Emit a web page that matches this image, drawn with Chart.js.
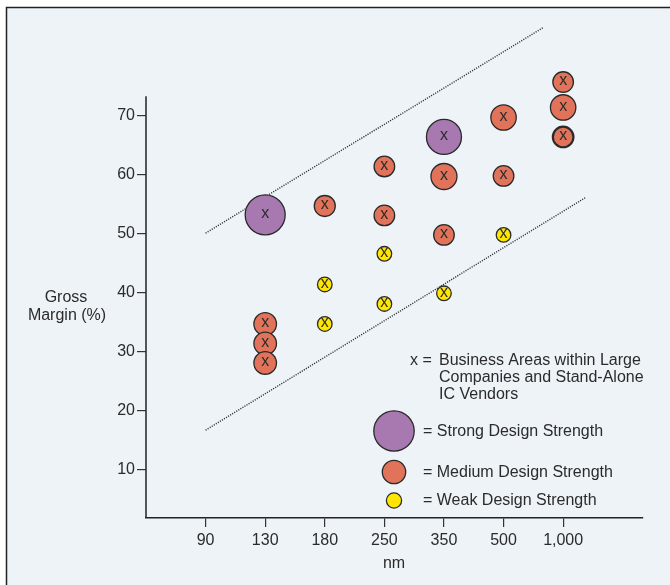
<!DOCTYPE html>
<html>
<head>
<meta charset="utf-8">
<script src="https://cdn.jsdelivr.net/npm/chart.js@4.4.1/dist/chart.umd.min.js"></script>
<style>
  html, body { margin: 0; padding: 0; background: #ffffff; }
  #wrap { width: 670px; height: 585px; }
</style>
</head>
<body>
<div id="wrap"><canvas id="chart_margem" width="670" height="585"></canvas></div>
<script>
// categorias do eixo x (nm) e ticks do eixo y
const xLabels = ['90', '130', '180', '250', '350', '500', '1,000'];
const yTicks = [10, 20, 30, 40, 50, 60, 70];
const yAxisTop = 73.2; // onde a linha do eixo y termina

// forte (roxo)
const strongNm = ['130', '350'];
const strongMargin = [53.1, 66.3];
const strongSize = [20, 17.5];

// medio (laranja)
const mediumNm = ['130', '130', '130', '180', '250', '250', '350', '350', '500', '500', '1,000', '1,000', '1,000'];
const mediumMargin = [34.6, 31.3, 28.0, 54.6, 61.3, 53.0, 59.6, 49.7, 69.6, 59.7, 75.6, 71.3, 66.3];
const mediumSize = [11.3, 11.3, 11.3, 10.5, 10.3, 10.3, 13, 10.3, 12.7, 10.3, 10.3, 12.7, 10.3];

// fraco (amarelo)
const weakNm = ['180', '180', '250', '250', '350', '500'];
const weakMargin = [41.3, 34.6, 46.5, 38.0, 39.8, 49.7];
const weakSize = [7.3, 7.3, 7.3, 7.3, 7.3, 7.3];

// linhas pontilhadas (posicao no eixo x, margem)
const upperLineX = [0, 5.66];
const upperLineY = [50.0, 84.8];
const lowerLineX = [0, 6.37];
const lowerLineY = [16.6, 56.0];

const textColor = '#2b2b2b';
const fontFamily = '"Liberation Sans", Arial, sans-serif';
Chart.defaults.font.family = fontFamily;
Chart.defaults.color = textColor;

function montarPontos(nms, margens, tamanhos) {
    let pontos = [];
    for (let i = 0; i < nms.length; i++) {
        pontos.push({ x: xLabels.indexOf(nms[i]), y: margens[i], r: tamanhos[i] });
    }
    return pontos;
}

function montarLinha(xs, ys) {
    return xs.map(function (x, i) { return { x: x, y: ys[i] }; });
}

const fundo = {
    id: 'fundo',
    beforeDraw(chart) {
        const ctx = chart.ctx;
        ctx.save();
        ctx.fillStyle = '#ffffff';
        ctx.fillRect(0, 0, chart.width, chart.height);
        ctx.fillStyle = '#eef3f8';
        ctx.fillRect(6, 7, chart.width - 6, chart.height - 7);
        ctx.strokeStyle = '#222222';
        ctx.lineWidth = 1.5;
        ctx.beginPath();
        ctx.moveTo(6.5, chart.height);
        ctx.lineTo(6.5, 7.5);
        ctx.lineTo(chart.width, 7.5);
        ctx.stroke();

        // linha do eixo y, so ate 73
        const y = chart.scales.y;
        const left = chart.chartArea.left;
        ctx.beginPath();
        ctx.moveTo(left, y.getPixelForValue(yAxisTop));
        ctx.lineTo(left, chart.chartArea.bottom);
        ctx.stroke();
        ctx.restore();
    }
};

const marcas = {
    id: 'marcas',
    afterDatasetsDraw(chart) {
        const ctx = chart.ctx;
        ctx.save();
        ctx.fillStyle = textColor;
        ctx.font = '16px ' + fontFamily;
        ctx.textAlign = 'center';
        ctx.textBaseline = 'middle';
        chart.data.datasets.forEach(function (ds, i) {
            if (ds.type !== 'bubble') return;
            chart.getDatasetMeta(i).data.forEach(function (el) {
                ctx.fillText('x', el.x, el.y - 1);
            });
        });

        // titulos dos eixos
        ctx.fillText('Gross', 66, 298);
        ctx.fillText('Margin (%)', 67, 316);
        ctx.fillText('nm', 394, 564);

        // legenda
        ctx.textAlign = 'left';
        ctx.textBaseline = 'alphabetic';
        ctx.fillText('x =', 410, 365);
        ctx.fillText('Business Areas within Large', 439, 365);
        ctx.fillText('Companies and Stand-Alone', 439, 382);
        ctx.fillText('IC Vendors', 439, 399);
        ctx.fillText('= Strong Design Strength', 423, 436);
        ctx.fillText('= Medium Design Strength', 423, 477);
        ctx.fillText('= Weak Design Strength', 423, 505);

        const itens = [
            [394, 431, 20.2, '#a878b0'],
            [394, 472, 11.7, '#e0735a'],
            [394, 500.5, 7.6, '#ffe600']
        ];
        itens.forEach(function (it) {
            ctx.beginPath();
            ctx.arc(it[0], it[1], it[2], 0, Math.PI * 2);
            ctx.fillStyle = it[3];
            ctx.fill();
            ctx.lineWidth = 1.3;
            ctx.strokeStyle = '#2a2a2a';
            ctx.stroke();
        });
        ctx.restore();
    }
};

const bolha = { borderColor: '#2a2a2a', borderWidth: 1.3, clip: false, order: 1 };
const pontilhado = {
    type: 'line', borderColor: '#2a2a2a', borderWidth: 1.4, borderDash: [1.1, 1.3],
    pointRadius: 0, fill: false, clip: false, order: 2
};

const config_margem = {
    data: {
        datasets: [
            Object.assign({ type: 'bubble', label: 'Strong', data: montarPontos(strongNm, strongMargin, strongSize), backgroundColor: '#a878b0' }, bolha),
            Object.assign({ type: 'bubble', label: 'Medium', data: montarPontos(mediumNm, mediumMargin, mediumSize), backgroundColor: '#e0735a' },
                bolha, { borderWidth: function (c) { return c.dataIndex === 12 ? 2.2 : 1.3; } }),
            Object.assign({ type: 'bubble', label: 'Weak', data: montarPontos(weakNm, weakMargin, weakSize), backgroundColor: '#ffe600' }, bolha),
            Object.assign({ label: 'upper', data: montarLinha(upperLineX, upperLineY) }, pontilhado),
            Object.assign({ label: 'lower', data: montarLinha(lowerLineX, lowerLineY) }, pontilhado)
        ]
    },
    options: {
        responsive: false,
        animation: false,
        events: [],
        layout: { padding: { left: 0, right: 27, top: 20, bottom: 0 } },
        plugins: { legend: { display: false }, tooltip: { enabled: false } },
        scales: {
            x: {
                type: 'linear',
                min: -1,
                max: 7.34,
                afterFit: function (s) { s.height = 67; },
                afterBuildTicks: function (s) { s.ticks = xLabels.map(function (l, i) { return { value: i }; }); },
                grid: { drawOnChartArea: false, drawTicks: true, tickLength: 9, color: '#333333', lineWidth: 1.2 },
                border: { color: '#222222', width: 1.5 },
                ticks: {
                    color: textColor, padding: 4, maxRotation: 0, autoSkip: false,
                    font: { size: 16 },
                    callback: function (v) { return xLabels[v]; }
                }
            },
            y: {
                type: 'linear',
                min: 1.72,
                max: 85.9,
                afterFit: function (s) { s.width = 146; },
                afterBuildTicks: function (s) { s.ticks = yTicks.map(function (v) { return { value: v }; }); },
                grid: { drawOnChartArea: false, drawTicks: true, tickLength: 9, color: '#333333', lineWidth: 1.2 },
                border: { display: false },
                ticks: { color: textColor, padding: 2, autoSkip: false, font: { size: 16 } }
            }
        }
    },
    plugins: [fundo, marcas]
};

const chart_margem = new Chart(document.getElementById('chart_margem'), config_margem);
</script>
</body>
</html>
